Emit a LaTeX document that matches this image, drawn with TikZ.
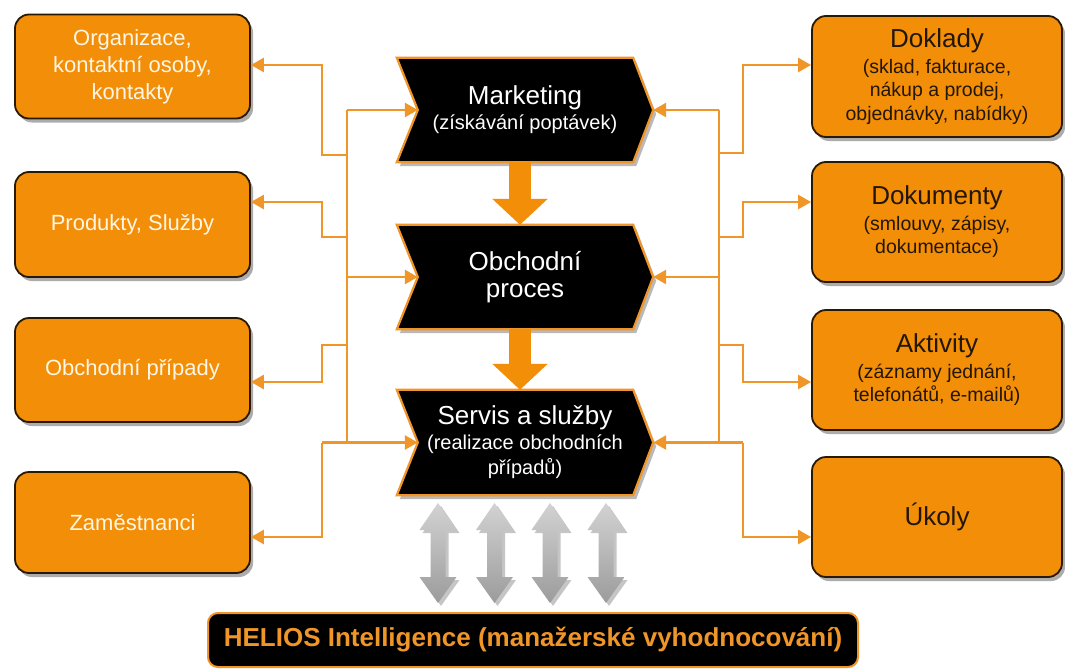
\documentclass[tikz,border=0pt]{standalone}
\usepackage{fontspec}
\setmainfont{Liberation Sans}
\usetikzlibrary{arrows.meta,shadows,calc,backgrounds}
\definecolor{orfill}{RGB}{242,142,8}
\definecolor{orline}{RGB}{240,150,40}
\definecolor{dkbord}{RGB}{40,25,5}
\definecolor{cream}{RGB}{255,246,228}
\definecolor{dktext}{RGB}{35,22,5}
\newcommand\hdtitle[1]{{\fontsize{26}{27}\selectfont #1}}
\begin{document}
\begin{tikzpicture}[x=1pt,y=-1pt,
  box/.style={draw=dkbord, line width=1.8pt, fill=orfill, rounded corners=14pt,
    drop shadow={shadow xshift=3pt,shadow yshift=-4pt,opacity=0.65},
    align=center, inner sep=0pt},
  lbox/.style={box, text=cream, font=\fontsize{22}{27}\selectfont, minimum width=235pt},
  rbox/.style={box, text=dktext, font=\fontsize{19.5}{23.5}\selectfont, minimum width=250pt},
  chev/.style={minimum width=256pt, inner sep=0pt, text=white, align=center,
    font=\fontsize{20}{25}\selectfont},
  chevbody/.style={fill=black, draw=orline, line width=2.2pt,
    drop shadow={shadow xshift=3pt,shadow yshift=-4pt,opacity=0.55}},
  conn/.style={orline, line width=2.6pt},
  arr/.style={conn, -{Triangle[length=13pt,width=14pt]}},
  bigarr/.style={orfill, line width=22pt, -{Triangle[length=26pt,width=54pt]}},
  garrow/.style={top color=gray!35, bottom color=gray!78, draw=none,
    drop shadow={shadow xshift=3pt,shadow yshift=-3pt,opacity=0.45}}
]
\useasboundingbox (0,0) rectangle (1065,669);
\begin{scope}[on background layer]
  \fill[white] (0,0) rectangle (1065,669);
\end{scope}

% left boxes
\node[lbox, minimum height=104pt] (l1) at (132.5,66.5) {Organizace,\\kontaktní osoby,\\kontakty};
\node[lbox, minimum height=105pt] (l2) at (132.5,224.5) {Produkty, Služby};
\node[lbox, minimum height=104pt] (l3) at (132.5,370) {Obchodní případy};
\node[lbox, minimum height=101pt] (l4) at (132.5,522.5) {Zaměstnanci};

% right boxes
\node[rbox, minimum height=121pt] (r1) at (937,76.5) {\hdtitle{Doklady}\\[2pt](sklad, fakturace,\\nákup a prodej,\\objednávky, nabídky)};
\node[rbox, minimum height=120pt] (r2) at (937,222) {\hdtitle{Dokumenty}\\[2pt](smlouvy, zápisy,\\dokumentace)};
\node[rbox, minimum height=120pt] (r3) at (937,370) {\hdtitle{Aktivity}\\[2pt](záznamy jednání,\\telefonátů, e-mailů)};
\node[rbox, minimum height=120pt] (r4) at (937,517) {\hdtitle{Úkoly}};

% chevrons
\node[chev, minimum height=104pt] (m) at (525,110) {\hdtitle{Marketing}\\(získávání poptávek)};
\node[chev, minimum height=104pt] (o) at (525,277) {\hdtitle{Obchodní}\\[2pt]\hdtitle{proces}};
\node[chev, minimum height=105pt] (s) at (525,442.5) {\hdtitle{Servis a služby}\\(realizace obchodních\\případů)};
\begin{scope}[on background layer]
  \foreach \c in {m,o,s}{
    \path[chevbody] (\c.north west) -- ([xshift=-20pt]\c.north east) -- (\c.east)
      -- ([xshift=-20pt]\c.south east) -- (\c.south west) -- ([xshift=21pt]\c.west) -- cycle;
  }
\end{scope}

% big orange arrows
\draw[bigarr] ([xshift=-5pt]m.south) -- ([xshift=-5pt]o.north);
\draw[bigarr] ([xshift=-5pt]o.south) -- ([xshift=-5pt]s.north);

% bus coordinates
\coordinate (bL) at (347,0);
\coordinate (cL) at (322,0);
\coordinate (bR) at (719,0);
\coordinate (cR) at (743,0);
\coordinate (jl1) at (347,155);
\coordinate (jl2) at (347,237);
\coordinate (jl3) at (347,345);
\coordinate (jr1) at (719,153);
\coordinate (jr2) at (719,237);
\coordinate (jr3) at (719,345);

% left connectors
\draw[conn] (bL |- m.west) -- (bL |- s.west);
\draw[arr] (bL |- m.west) -- ([xshift=21pt]m.west);
\draw[arr] (bL |- o.west) -- ([xshift=21pt]o.west);
\draw[arr] (cL |- s.west) -- ([xshift=21pt]s.west);
\draw[arr] (jl1) -- (cL |- jl1) |- ([yshift=1.5pt]l1.east);
\draw[arr] (jl2) -- (cL |- jl2) |- ([yshift=22.5pt]l2.east);
\draw[arr] (jl3) -- (cL |- jl3) |- ([yshift=-12pt]l3.east);
\draw[arr] (cL |- s.west) |- ([yshift=-14.5pt]l4.east);

% right connectors
\draw[conn] (bR |- m.east) -- (bR |- s.east);
\draw[arr] (bR |- m.east) -- (m.east);
\draw[arr] (bR |- o.east) -- (o.east);
\draw[arr] (cR |- s.east) -- (s.east);
\draw[arr] (jr1) -- (cR |- jr1) |- ([yshift=11.5pt]r1.west);
\draw[arr] (jr2) -- (cR |- jr2) |- ([yshift=20pt]r2.west);
\draw[arr] (jr3) -- (cR |- jr3) |- ([yshift=-12pt]r3.west);
\draw[arr] (cR |- s.east) |- ([yshift=-20pt]r4.west);

% HELIOS bar
\node[draw=orline, line width=2pt, fill=black, rounded corners=10pt,
  minimum width=650pt, minimum height=54pt, text=orline,
  font=\fontsize{26}{30}\selectfont\bfseries] (h) at (533,640)
  {HELIOS Intelligence (manažerské vyhodnocování)};

% gray double arrows
\foreach \cx in {438,494.5,550,606}{
  \path[garrow] (\cx,503) -- ++(18.5,27) -- ++(-11,0) -- (\cx+7.5,577) -- ++(11,0)
    -- (\cx,603) -- ++(-18.5,-26) -- ++(11,0) -- (\cx-7.5,530) -- ++(-11,0) -- cycle;
}
\end{tikzpicture}
\end{document}
